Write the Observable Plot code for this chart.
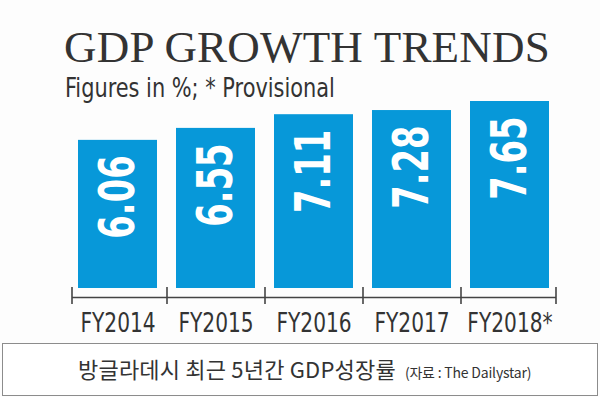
<!DOCTYPE html>
<html>
<head>
<meta charset="utf-8">
<script src="https://cdn.jsdelivr.net/npm/d3@7"></script>
<script src="https://cdn.jsdelivr.net/npm/@observablehq/plot@0.6"></script>
<style>
  html, body { margin: 0; padding: 0; background: #fdfdfd; }
  #wrap { position: relative; width: 600px; height: 397px; overflow: hidden; background: #fdfdfd; }
  #chart { position: absolute; left: 0; top: 0; }
  .title { position: absolute; left: 64px; top: 25px; font-family: "Liberation Serif", "DejaVu Serif", serif; font-size: 45px; line-height: 45px; color: #333; white-space: nowrap; letter-spacing: 0.2px; }
  .subtitle { position: absolute; left: 65px; top: 74px; font-family: "DejaVu Sans Condensed", "DejaVu Sans", sans-serif; font-stretch: condensed; font-size: 27px; line-height: 27px; color: #333; white-space: nowrap; transform: scaleX(0.86); transform-origin: 0 0; }
  .caption { position: absolute; left: 2px; top: 343px; width: 596px; height: 53px; box-sizing: border-box; border: 1.5px solid #8c8c8c; background: #fff; font-family: "Noto Sans CJK KR", sans-serif; color: #333; }
  .caption .main { position: absolute; left: 75px; top: 10px; font-size: 22px; line-height: 28px; letter-spacing: 0.2px; white-space: nowrap; }
  .caption .src { font-size: 14px; letter-spacing: -0.2px; margin-left: 9px; }
</style>
</head>
<body>
<div id="wrap">
  <div id="chart"></div>
  <div class="title">GDP GROWTH TRENDS</div>
  <div class="subtitle">Figures in %; * Provisional</div>
  <div class="caption"><div class="main">방글라데시 최근 5년간 GDP성장률<span class="src">(자료 : The Dailystar)</span></div></div>
</div>
<script>
const years = ["FY2014", "FY2015", "FY2016", "FY2017", "FY2018*"];
const growth = [6.06, 6.55, 7.11, 7.28, 7.65];
const valueLabels = ["6.06", "6.55", "7.11", "7.28", "7.65"];

const data = years.map((y, i) => ({year: y, value: growth[i], label: valueLabels[i]}));
const narrow = "'DejaVu Sans Condensed', 'DejaVu Sans', sans-serif";

const chart = Plot.plot({
  width: 600,
  height: 397,
  marginLeft: 78,
  marginRight: 50,
  marginTop: 101,
  marginBottom: 109,
  style: {background: "transparent", overflow: "visible"},
  x: {domain: years, paddingInner: 0.19, paddingOuter: 0, axis: null},
  y: {domain: [0, 7.65], axis: null},
  marks: [
    Plot.barY(data, {x: "year", y: "value", fill: "#0798d9"}),
    Plot.text(data, {
      x: "year", y: "value", text: "label", rotate: -90, textAnchor: "end",
      dy: 15, fill: "white", fontSize: 50, fontWeight: "bold", fontFamily: narrow
    }),
    Plot.ruleY([0], {dy: 9, insetLeft: -6, insetRight: -6, stroke: "#444", strokeWidth: 1.6}),
    Plot.ruleX(data.slice(1), {x: "year", dx: -49, insetTop: 186, insetBottom: -16, stroke: "#444", strokeWidth: 1.6}),
    Plot.ruleX(data.slice(0, 1), {x: "year", dx: -46, insetTop: 186, insetBottom: -16, stroke: "#444", strokeWidth: 1.6}),
    Plot.ruleX(data.slice(-1), {x: "year", dx: 46, insetTop: 186, insetBottom: -16, stroke: "#444", strokeWidth: 1.6}),
    Plot.text(data, {
      x: "year", y: 0, text: "year", dy: 35, fill: "#333", fontSize: 27, fontFamily: narrow
    })
  ]
});
document.getElementById("chart").appendChild(chart);

// Condense the sans text (no narrow font is installed): squeeze along the text direction.
d3.select(chart).selectAll("text").each(function () {
  const fill = this.getAttribute("fill") || (this.parentNode && this.parentNode.getAttribute("fill"));
  const factor = fill === "white" ? 0.75 : 0.83;
  const len = this.getComputedTextLength();
  this.setAttribute("textLength", (len * factor).toFixed(1));
  this.setAttribute("lengthAdjust", "spacingAndGlyphs");
});
</script>
</body>
</html>
